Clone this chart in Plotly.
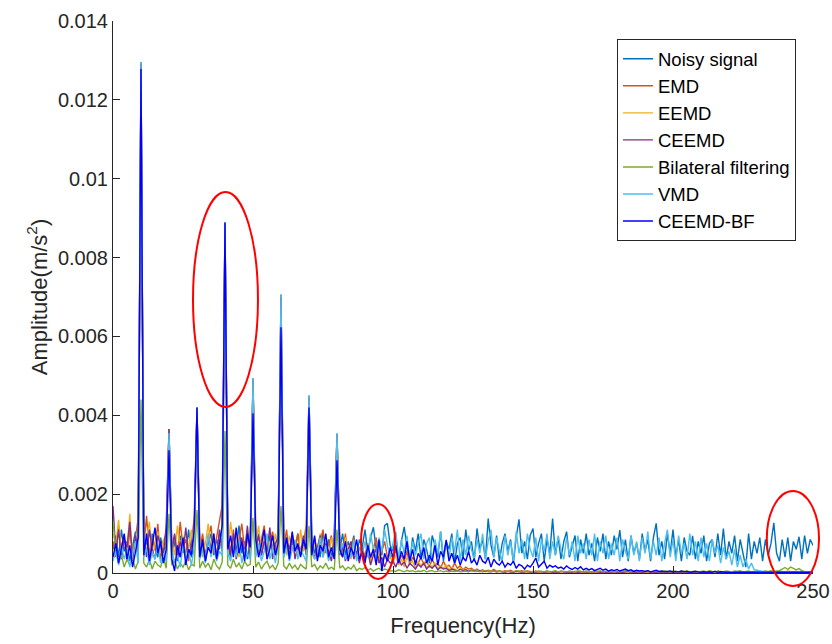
import plotly.graph_objects as go

# Frequency grid (Hz), 1 Hz resolution, 0..250
freq_hz = list(range(0, 251))

# Amplitudes in units of 1e-5 m/s^2
noisy_signal = [
    60, 95, 40, 110, 55, 80, 30, 70, 105, 45,
    1296, 50, 85, 35, 100, 60, 40, 90, 55, 75,
    365, 45, 80, 30, 95, 65, 50, 110, 40, 70,
    420, 55, 90, 35, 75, 100, 45, 85, 60, 115,
    889, 70, 40, 95, 55, 120, 50, 80, 35, 90,
    494, 60, 100, 45, 85, 40, 95, 65, 50, 110,
    706, 55, 90, 40, 80, 60, 100, 45, 75, 55,
    450, 95, 50, 70, 40, 105, 60, 85, 45, 90,
    354, 60, 100, 45, 80, 55, 95, 40, 85, 65,
    110, 50, 90, 116, 60, 85, 45, 120, 126, 70,
    55, 95, 30, 80, 117, 65, 25, 90, 55, 100,
    35, 85, 60, 25, 95, 70, 40, 105, 30, 80,
    60, 100, 25, 75, 90, 35, 110, 55, 80, 30,
    113, 60, 85, 35, 138, 70, 40, 95, 30, 75,
    100, 55, 85, 25, 90, 136, 50, 80, 35, 95,
    113, 40, 75, 100, 30, 85, 50, 138, 45, 90,
    35, 80, 105, 40, 70, 95, 30, 85, 50, 100,
    45, 75, 30, 90, 55, 100, 35, 80, 45, 95,
    60, 109, 40, 85, 30, 95, 50, 75, 35, 100,
    55, 85, 30, 90, 126, 45, 80, 35, 100, 50,
    110, 40, 85, 30, 90, 55, 45, 94, 35, 80,
    50, 95, 30, 75, 85, 40, 100, 45, 113, 35,
    80, 50, 95, 30, 85, 45, 15, 100, 35, 80,
    50, 90, 30, 85, 45, 75, 127, 50, 30, 85,
    40, 90, 30, 80, 60, 92, 35, 95, 50, 85,
    70,
]

emd = [
    80, 40, 120, 60, 95, 30, 110, 50, 85, 140,
    1290, 70, 145, 45, 90, 60, 125, 35, 80, 100,
    360, 55, 95, 40, 130, 65, 85, 30, 75, 140,
    418, 60, 100, 45, 85, 120, 50, 90, 140, 172,
    885, 95, 55, 110, 40, 80, 125, 60, 90, 45,
    489, 100, 50, 85, 120, 45, 75, 105, 55, 90,
    700, 65, 110, 40, 85, 55, 100, 45, 75, 120,
    447, 55, 90, 40, 80, 110, 50, 70, 95, 45,
    350, 85, 50, 100, 40, 70, 90, 35, 65, 55,
    45, 75, 35, 60, 90, 30, 55, 80, 40, 50,
    35, 60, 25, 45, 30, 55, 20, 40, 30, 25,
    40, 20, 30, 15, 35, 20, 25, 12, 30, 15,
    20, 10, 25, 12, 18, 8, 15, 10, 12, 6,
    10, 5, 8, 4, 7, 5, 9, 4, 6, 3,
    6, 4, 7, 3, 5, 4, 6, 3, 5, 4,
    3, 5, 2, 4, 3, 5, 2, 3, 4, 2,
    4, 3, 2, 4, 3, 2, 3, 4, 2, 3,
    2, 3, 4, 2, 3, 2, 4, 3, 2, 3,
    3, 2, 3, 2, 4, 2, 3, 2, 3, 2,
    2, 3, 2, 3, 2, 2, 3, 2, 3, 2,
    3, 2, 2, 3, 2, 3, 2, 2, 3, 2,
    2, 3, 2, 2, 3, 2, 2, 3, 2, 2,
    3, 2, 2, 3, 2, 2, 3, 2, 2, 3,
    2, 2, 3, 2, 2, 3, 2, 2, 3, 2,
    2, 3, 2, 2, 3, 2, 2, 3, 2, 2,
    2,
]

eemd = [
    100, 70, 135, 45, 90, 60, 150, 40, 80, 115,
    1292, 55, 90, 130, 40, 75, 105, 50, 85, 60,
    362, 80, 45, 120, 60, 95, 35, 70, 110, 50,
    419, 90, 40, 75, 125, 55, 100, 45, 85, 65,
    886, 50, 130, 70, 95, 40, 85, 60, 110, 45,
    490, 75, 120, 50, 90, 35, 80, 60, 100, 45,
    702, 85, 45, 95, 60, 75, 40, 110, 55, 80,
    448, 40, 85, 60, 100, 45, 75, 35, 90, 55,
    352, 70, 40, 90, 55, 35, 75, 50, 30, 65,
    40, 55, 25, 70, 35, 50, 20, 45, 30, 40,
    25, 45, 20, 35, 15, 40, 25, 30, 12, 28,
    18, 30, 12, 22, 15, 25, 10, 18, 12, 20,
    8, 14, 10, 6, 12, 8, 10, 5, 9, 6,
    7, 4, 6, 3, 5, 4, 6, 3, 5, 4,
    3, 5, 2, 4, 3, 5, 3, 4, 2, 3,
    4, 2, 3, 4, 2, 3, 2, 4, 3, 2,
    3, 4, 2, 3, 2, 4, 3, 2, 3, 4,
    2, 3, 2, 4, 3, 2, 3, 2, 4, 3,
    2, 4, 3, 2, 3, 2, 3, 4, 2, 3,
    3, 2, 4, 3, 2, 3, 2, 3, 2, 4,
    2, 3, 2, 3, 4, 2, 3, 2, 3, 2,
    3, 2, 4, 2, 3, 2, 3, 2, 2, 3,
    2, 3, 2, 3, 2, 4, 2, 3, 2, 3,
    3, 2, 3, 2, 3, 2, 4, 3, 5, 4,
    3, 5, 4, 3, 4, 3, 2, 3, 2, 2,
    2,
]

ceemd = [
    170, 50, 110, 35, 85, 65, 130, 30, 95, 55,
    1291, 85, 40, 110, 60, 35, 95, 70, 45, 120,
    365, 60, 100, 35, 80, 50, 115, 40, 70, 90,
    418, 45, 75, 30, 95, 60, 85, 40, 110, 55,
    886, 80, 45, 100, 35, 70, 90, 50, 120, 40,
    488, 65, 95, 45, 80, 55, 115, 35, 75, 90,
    700, 40, 85, 60, 100, 35, 70, 50, 95, 45,
    446, 80, 35, 65, 95, 40, 75, 55, 30, 85,
    351, 45, 70, 30, 60, 80, 35, 55, 25, 65,
    35, 55, 20, 45, 60, 25, 40, 15, 35, 25,
    30, 15, 35, 20, 28, 12, 25, 18, 10, 22,
    15, 25, 10, 18, 12, 20, 8, 15, 10, 12,
    6, 10, 8, 5, 9, 6, 8, 4, 7, 5,
    4, 6, 3, 5, 4, 3, 5, 3, 4, 3,
    2, 4, 3, 2, 4, 3, 2, 3, 4, 2,
    3, 2, 4, 3, 2, 3, 4, 2, 3, 2,
    4, 3, 2, 3, 2, 4, 2, 3, 3, 2,
    3, 2, 3, 4, 2, 3, 2, 3, 2, 4,
    2, 3, 2, 3, 4, 2, 3, 2, 3, 2,
    3, 4, 2, 3, 2, 3, 2, 4, 2, 3,
    2, 3, 3, 2, 4, 2, 3, 2, 3, 2,
    3, 2, 3, 2, 3, 4, 2, 3, 2, 3,
    2, 3, 2, 4, 2, 3, 2, 3, 2, 2,
    3, 2, 3, 2, 2, 3, 2, 3, 4, 3,
    2, 3, 2, 3, 2, 2, 3, 2, 2, 3,
    2,
]

bilateral = [
    130, 60, 25, 45, 15, 35, 20, 40, 10, 30,
    440, 25, 15, 35, 10, 30, 20, 15, 40, 12,
    150, 20, 35, 10, 25, 15, 30, 8, 22, 18,
    160, 12, 30, 15, 25, 8, 35, 18, 10, 28,
    360, 20, 12, 35, 15, 25, 10, 30, 18, 22,
    140, 15, 28, 10, 22, 30, 12, 20, 8, 25,
    170, 18, 10, 25, 12, 20, 8, 22, 15, 10,
    120, 15, 22, 8, 18, 12, 25, 10, 15, 8,
    110, 12, 18, 8, 15, 10, 20, 6, 12, 9,
    14, 7, 11, 5, 9, 12, 6, 10, 8, 5,
    6, 4, 8, 5, 3, 7, 4, 6, 3, 5,
    4, 7, 3, 5, 6, 3, 4, 6, 3, 5,
    3, 5, 4, 6, 3, 4, 5, 3, 6, 4,
    5, 3, 4, 6, 3, 5, 4, 3, 5, 4,
    3, 5, 4, 3, 6, 4, 3, 5, 4, 3,
    4, 3, 5, 4, 3, 5, 3, 4, 6, 3,
    5, 4, 3, 5, 4, 3, 6, 4, 3, 5,
    4, 3, 5, 4, 6, 3, 4, 5, 3, 4,
    5, 3, 4, 6, 4, 3, 5, 4, 3, 5,
    4, 6, 3, 4, 5, 3, 4, 6, 4, 3,
    5, 4, 3, 5, 4, 6, 3, 4, 5, 3,
    4, 5, 3, 6, 4, 3, 5, 4, 3, 5,
    4, 3, 5, 4, 6, 3, 4, 5, 3, 4,
    5, 4, 3, 5, 4, 6, 4, 5, 6, 10,
    14, 9, 15, 12, 8, 11, 6, 4, 3, 3,
    3,
]

vmd = [
    30, 55, 20, 70, 35, 60, 15, 45, 80, 25,
    1296, 40, 65, 20, 55, 35, 75, 25, 50, 30,
    355, 60, 25, 45, 15, 70, 35, 55, 20, 65,
    420, 35, 60, 25, 100, 40, 75, 30, 55, 45,
    889, 50, 30, 70, 40, 85, 25, 60, 45, 35,
    494, 40, 75, 30, 55, 100, 35, 65, 25, 80,
    706, 40, 70, 30, 55, 85, 35, 60, 45, 30,
    450, 65, 35, 55, 90, 40, 70, 30, 60, 45,
    354, 50, 75, 35, 60, 40, 85, 30, 65, 45,
    80, 40, 100, 60, 35, 90, 55, 110, 70, 40,
    75, 105, 35, 85, 50, 95, 30, 80, 45, 70,
    100, 35, 75, 90, 30, 85, 50, 105, 40, 80,
    35, 90, 55, 110, 30, 85, 45, 95, 60, 35,
    85, 50, 100, 35, 80, 110, 40, 90, 55, 30,
    95, 45, 80, 30, 105, 50, 85, 35, 100, 60,
    40, 90, 30, 85, 55, 100, 35, 80, 45, 95,
    60, 35, 90, 45, 80, 30, 95, 50, 75, 35,
    85, 45, 100, 30, 80, 50, 95, 35, 75, 45,
    90, 30, 85, 55, 35, 95, 45, 80, 30, 90,
    50, 105, 35, 80, 45, 90, 30, 75, 110, 40,
    85, 30, 95, 50, 75, 35, 100, 45, 80, 30,
    90, 40, 75, 30, 85, 50, 70, 25, 65, 35,
    55, 20, 60, 15, 45, 15, 35, 10, 25, 8,
    8, 5, 4, 3, 3, 2, 3, 2, 2, 3,
    2, 3, 2, 2, 3, 2, 2, 3, 2, 2,
    2,
]

ceemd_bf = [
    40, 75, 25, 60, 100, 35, 70, 15, 55, 90,
    1278, 45, 100, 30, 70, 115, 50, 80, 25, 60,
    311, 35, 5, 70, 40, 90, 20, 60, 45, 110,
    420, 40, 85, 30, 65, 50, 100, 35, 75, 120,
    889, 60, 95, 40, 115, 50, 80, 30, 100, 65,
    405, 85, 40, 70, 110, 35, 60, 95, 45, 75,
    623, 50, 90, 35, 105, 55, 75, 40, 85, 60,
    420, 45, 95, 30, 70, 55, 100, 40, 65, 35,
    286, 60, 40, 80, 30, 65, 45, 85, 35, 55,
    25, 70, 40, 60, 20, 85, 5, 50, 30, 65,
    40, 70, 25, 55, 35, 80, 30, 60, 20, 50,
    35, 65, 25, 45, 30, 70, 20, 55, 40, 84,
    30, 50, 25, 45, 20, 40, 30, 55, 25, 35,
    20, 45, 30, 25, 40, 15, 35, 25, 20, 30,
    15, 25, 20, 30, 12, 22, 18, 10, 20, 15,
    25, 38, 15, 22, 30, 12, 20, 15, 18, 12,
    15, 10, 18, 12, 9, 14, 10, 16, 8, 12,
    8, 11, 6, 9, 12, 7, 10, 5, 8, 6,
    9, 5, 7, 10, 6, 8, 4, 7, 5, 6,
    4, 6, 3, 5, 7, 4, 5, 3, 4, 5,
    3, 4, 3, 5, 3, 4, 2, 3, 4, 3,
    2, 3, 2, 3, 2, 4, 2, 3, 2, 2,
    2, 1, 2, 2, 1, 2, 2, 1, 2, 2,
    1, 2, 2, 1, 2, 1, 2, 2, 1, 2,
    2, 1, 2, 2, 1, 2, 1, 2, 2, 1,
    2,
]

series_names = ["Noisy signal", "EMD", "EEMD", "CEEMD",
                "Bilateral filtering", "VMD", "CEEMD-BF"]
series_values = [noisy_signal, emd, eemd, ceemd, bilateral, vmd, ceemd_bf]
series_colors = ["#0072BD", "#D95319", "#EDB120", "#7E2F8E",
                 "#77AC30", "#4DBEEE", "#0000FF"]

unit = 1e-5  # stored values are in 1e-5 m/s^2

y_tick_vals = [0, 0.002, 0.004, 0.006, 0.008, 0.01, 0.012, 0.014]
y_tick_text = ["0", "0.002", "0.004", "0.006", "0.008", "0.01", "0.012", "0.014"]
x_tick_vals = [0, 50, 100, 150, 200, 250]

fig = go.Figure()
for name, vals, col in zip(series_names, series_values, series_colors):
    assert len(vals) == len(freq_hz), (name, len(vals))
    fig.add_trace(go.Scatter(
        x=freq_hz, y=[v * unit for v in vals], mode="lines", name=name,
        line=dict(color=col, width=1.4),
    ))

font_family = "Liberation Sans, Arial, Helvetica, sans-serif"
axis_color = "#262626"

fig.update_layout(
    width=832, height=644,
    margin=dict(l=113, r=19, t=21, b=71, autoexpand=False),
    paper_bgcolor="white", plot_bgcolor="white",
    font=dict(family=font_family, color=axis_color, size=20),
    showlegend=True,
    legend=dict(
        x=0.9757, xanchor="right", y=0.967, yanchor="top",
        bgcolor="white", bordercolor=axis_color, borderwidth=1,
        font=dict(size=18.5, family=font_family, color="#000000"),
        tracegroupgap=0,
    ),
    xaxis=dict(
        range=[0, 250], tickvals=x_tick_vals,
        ticks="inside", ticklen=7, tickcolor=axis_color,
        showline=True, linecolor=axis_color, linewidth=1,
        showgrid=False, zeroline=False, automargin=False,
        tickfont=dict(size=20),
        title=dict(text="Frequency(Hz)", font=dict(size=22), standoff=16),
    ),
    yaxis=dict(
        range=[0, 0.014], tickvals=y_tick_vals, ticktext=y_tick_text,
        ticks="inside", ticklen=7, tickcolor=axis_color,
        showline=True, linecolor=axis_color, linewidth=1,
        showgrid=False, zeroline=False, automargin=False,
        tickfont=dict(size=20),
        title=dict(text="Amplitude(m/s<sup>2</sup>)", font=dict(size=22), standoff=4),
    ),
)

# Red highlight ellipses (paper coordinates)
ellipses = [
    (0.1143, 0.3007, 0.2071, 0.6902),
    (0.3543, -0.0109, 0.4029, 0.125),
    (0.934, -0.0236, 1.0086, 0.1486),
]
for x0, y0, x1, y1 in ellipses:
    fig.add_shape(type="circle", xref="paper", yref="paper",
                  x0=x0, y0=y0, x1=x1, y1=y1,
                  line=dict(color="#FF0000", width=2))

fig.write_html("out.html")
